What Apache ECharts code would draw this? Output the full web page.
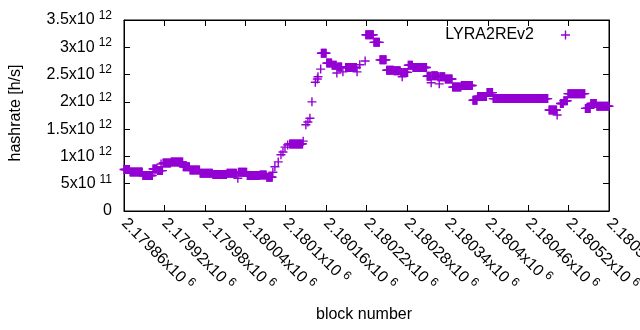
<!DOCTYPE html>
<html>
<head>
<meta charset="utf-8">
<script src="https://cdn.jsdelivr.net/npm/echarts@6/dist/echarts.min.js"></script>
<style>
  html, body { margin: 0; padding: 0; background: #fff; }
  #chart { width: 640px; height: 330px; }
</style>
</head>
<body>
<div id="chart"></div>
<script>
// runs of blocks with the same hashrate estimate (x10^12 h/s)
const runFirst = [
  2179860, 2179869, 2179888, 2179903, 2179910, 2179915, 2179916, 2179918, 2179930, 2179948,
  2179958, 2179973, 2179992, 2180013, 2180029, 2180030, 2180043, 2180062, 2180072, 2180081,
  2180084, 2180089, 2180093, 2180096, 2180099, 2180103, 2180106, 2180126, 2180130, 2180133,
  2180136, 2180139, 2180144, 2180147, 2180148, 2180152, 2180153, 2180161, 2180169, 2180176,
  2180177, 2180185, 2180189, 2180206, 2180210, 2180218, 2180219, 2180231, 2180240, 2180250,
  2180261, 2180271, 2180273, 2180274, 2180282, 2180289, 2180310, 2180316, 2180317, 2180326,
  2180328, 2180329, 2180337, 2180348, 2180361, 2180378, 2180385, 2180399, 2180408, 2180491,
  2180503, 2180508, 2180513, 2180519, 2180545, 2180553, 2180562
];
const runLast = [
  2179868, 2179887, 2179902, 2179909, 2179914, 2179915, 2179917, 2179929, 2179947, 2179957,
  2179972, 2179991, 2180012, 2180027, 2180029, 2180042, 2180061, 2180071, 2180080, 2180081,
  2180084, 2180089, 2180093, 2180096, 2180099, 2180103, 2180125, 2180126, 2180130, 2180133,
  2180136, 2180139, 2180144, 2180147, 2180148, 2180152, 2180160, 2180168, 2180175, 2180176,
  2180183, 2180185, 2180205, 2180206, 2180210, 2180218, 2180230, 2180239, 2180249, 2180260,
  2180270, 2180272, 2180273, 2180281, 2180288, 2180309, 2180315, 2180316, 2180325, 2180327,
  2180328, 2180336, 2180347, 2180360, 2180377, 2180384, 2180398, 2180407, 2180489, 2180502,
  2180503, 2180512, 2180518, 2180544, 2180552, 2180561, 2180580
];
const runHashrate = [
  0.76, 0.715, 0.65, 0.77, 0.74, 0.86, 0.74, 0.88, 0.90, 0.81,
  0.75, 0.69, 0.67, 0.69, 0.60, 0.71, 0.65, 0.66, 0.62, 0.71,
  0.81, 0.90, 1.03, 1.08, 1.17, 1.21, 1.23, 1.28, 1.58, 1.63,
  1.70, 2.00, 2.36, 2.42, 2.46, 2.60, 2.89, 2.71, 2.67, 2.53,
  2.64, 2.55, 2.63, 2.55, 2.68, 2.75, 3.23, 3.09, 2.77, 2.58,
  2.57, 2.54, 2.46, 2.54, 2.67, 2.63, 2.47, 2.35, 2.48, 2.46,
  2.33, 2.46, 2.42, 2.27, 2.30, 2.03, 2.10, 2.17, 2.06, 1.85,
  1.76, 1.97, 2.02, 2.15, 1.88, 1.97, 1.92
];

// tick labels
const xTickMantissa = ['2.17986', '2.17992', '2.17998', '2.18004', '2.1801', '2.18016', '2.18022',
  '2.18028', '2.18034', '2.1804', '2.18046', '2.18052', '2.18058'];
const xTickExponent = '6';
const yTickMantissa = ['0', '5x10', '1x10', '1.5x10', '2x10', '2.5x10', '3x10', '3.5x10'];
const yTickExponent = ['', '11', '12', '12', '12', '12', '12', '12'];

const xMin = 2179860, xMax = 2180580, xStep = 60;
const yMin = 0, yMax = 3.5e12, yStep = 0.5e12;

const points = [];
runFirst.forEach((first, i) => {
  for (let b = first; b <= runLast[i]; b++) {
    points.push([b, runHashrate[i] * 1e12]);
  }
});

const plusPath = 'path://M0,3.8H9V5.2H0Z M3.8,0H5.2V9H3.8Z';
const purple = '#9400d3';
const font = 'Liberation Sans, Arial, sans-serif';

const rich = {
  m: { fontSize: 16, fontFamily: font, color: '#000' },
  s: { fontSize: 12, fontFamily: font, color: '#000', padding: [0, 0, 9, 4] }
};
const frame = () => ({ show: true, onZero: false, lineStyle: { color: '#000', width: 1 } });
const ticks = () => ({ show: true, inside: true, length: 6, lineStyle: { color: '#000', width: 1 } });

const myChart = echarts.init(document.getElementById('chart'));
const option = {
  animation: false,
  grid: {
    left: 124, right: 31, top: 20, bottom: 119, outerBoundsMode: 'none',
    show: true, borderColor: '#000', borderWidth: 1, backgroundColor: 'rgba(0,0,0,0)'
  },
  legend: {
    right: 65,
    top: 22,
    align: 'right',
    itemWidth: 9,
    itemHeight: 9,
    textStyle: { fontSize: 16, color: '#000', fontFamily: font, padding: [0, 22, 0, 0] },
    data: [{ name: 'LYRA2REv2', icon: plusPath, itemStyle: { color: purple } }]
  },
  // axis titles
  graphic: [
    {
      type: 'text',
      x: 364,
      y: 315,
      style: { text: 'block number', fontSize: 16, fontFamily: font, fill: '#000', align: 'center', verticalAlign: 'middle' }
    },
    {
      type: 'text',
      x: 16,
      y: 113,
      rotation: Math.PI / 2,
      style: { text: 'hashrate [h/s]', fontSize: 16, fontFamily: font, fill: '#000', align: 'center', verticalAlign: 'middle' }
    }
  ],
  xAxis: [
    {
      type: 'value',
      min: xMin,
      max: xMax,
      interval: xStep,
      z: 5,
      axisLine: frame(),
      axisTick: ticks(),
      splitLine: { show: false },
      axisLabel: {
        rotate: -45,
        margin: 10,
        interval: 0,
        hideOverlap: false,
        formatter: v => {
          const i = Math.round((v - xMin) / xStep);
          return '{m|' + xTickMantissa[i] + 'x10}{s|' + xTickExponent + '}';
        },
        rich: rich
      }
    },
    {
      type: 'value',
      position: 'top',
      min: xMin,
      max: xMax,
      interval: xStep,
      z: 5,
      axisLine: frame(),
      axisTick: ticks(),
      axisLabel: { show: false },
      splitLine: { show: false }
    }
  ],
  yAxis: [
    {
      type: 'value',
      min: yMin,
      max: yMax,
      interval: yStep,
      z: 5,
      axisLine: frame(),
      axisTick: ticks(),
      splitLine: { show: false },
      axisLabel: {
        margin: 12,
        formatter: v => {
          const i = Math.round((v - yMin) / yStep);
          if (!yTickExponent[i]) return '{m|' + yTickMantissa[i] + '}';
          return '{m|' + yTickMantissa[i] + '}{s|' + yTickExponent[i] + '}';
        },
        rich: rich
      }
    },
    {
      type: 'value',
      position: 'right',
      min: yMin,
      max: yMax,
      interval: yStep,
      z: 5,
      axisLine: frame(),
      axisTick: ticks(),
      axisLabel: { show: false },
      splitLine: { show: false }
    }
  ],
  series: [
    {
      name: 'LYRA2REv2',
      type: 'scatter',
      zlevel: 1,
      symbol: plusPath,
      symbolSize: 9,
      itemStyle: { color: purple, opacity: 1 },
      data: points
    }
  ]
};
option && myChart.setOption(option);
</script>
</body>
</html>
